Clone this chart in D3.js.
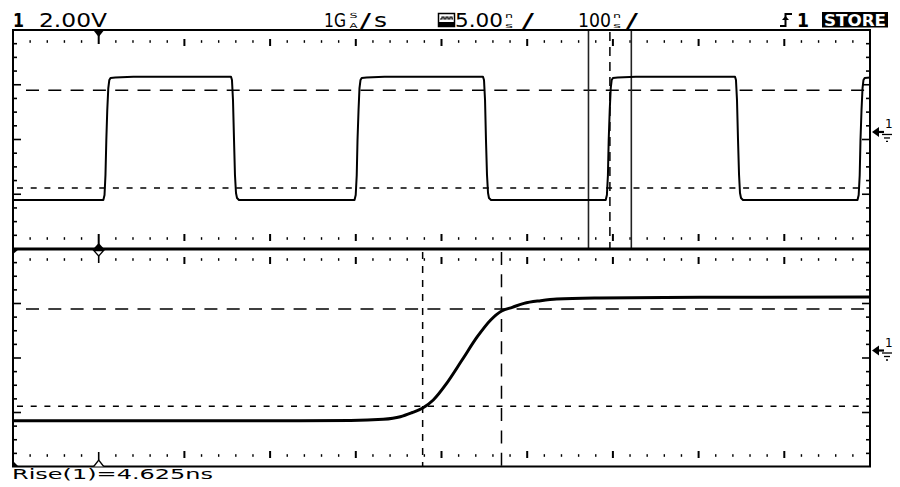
<!DOCTYPE html>
<html><head><meta charset="utf-8">
<script src="https://cdn.jsdelivr.net/npm/d3@7"></script>
<style>html,body{margin:0;padding:0;background:#fff}svg{display:block}</style>
</head><body>
<svg id="c" width="900" height="487"></svg>
<script>
// ---------------- DATA ----------------
const channelLabel = "1";
const voltsPerDivLabel = "2.00V";
const sampleRateParts = ["1G", "S", "A", "/", "s"];
const zoomTimebaseParts = ["5.00", "n", "s", "/"];
const mainTimebaseParts = ["100", "n", "s", "/"];
const triggerLabel = "1";
const modeLabel = "STORE";
const measurementLabel = "Rise(1)=4.625ns";

// main window: 100 ns/div, 10 divisions, trigger 1 div from left
const mainTimeDomain = [-100, 900];           // ns
const voltDomain = [-8.55, 7.45];             // V (ground marker at 0 V)

// main (100 ns/div) trace: time (ns) and volts
const mainTimes = [-100.0, 5.4, 6.8, 7.9, 8.9, 10.0, 11.2, 12.4, 13.8, 19.4, 40.4,
  154.4, 155.5, 156.7, 157.9, 159.0, 160.2, 161.4, 163.7,
  298.5, 299.9, 301.1, 302.0, 303.2, 304.3, 305.5, 306.9, 312.5, 333.5,
  448.4, 449.6, 450.8, 451.9, 453.1, 454.3, 455.4, 457.8,
  591.6, 593.0, 594.2, 595.1, 596.3, 597.5, 598.6, 600.0, 605.6, 626.6,
  742.5, 743.6, 744.8, 746.0, 747.2, 748.3, 749.5, 751.8,
  885.4, 886.8, 888.0, 888.9, 890.1, 891.3, 892.4, 893.8, 900.0];
const mainVolts = [-4.97, -4.97, -4.60, -3.14, -0.58, 1.61, 3.21, 3.80, 3.95, 3.98, 4.04,
  4.04, 3.80, 2.34, -0.58, -3.14, -4.46, -4.82, -4.97,
  -4.97, -4.60, -3.14, -0.58, 1.61, 3.21, 3.80, 3.95, 3.98, 4.04,
  4.04, 3.80, 2.34, -0.58, -3.14, -4.46, -4.82, -4.97,
  -4.97, -4.60, -3.14, -0.58, 1.61, 3.21, 3.80, 3.95, 3.98, 4.04,
  4.04, 3.80, 2.34, -0.58, -3.14, -4.46, -4.82, -4.97,
  -4.97, -4.60, -3.14, -0.58, 1.61, 3.21, 3.80, 3.95, 3.98];

// zoom window: 5 ns/div around the zoom centre
const zoomCenter = 596.5;   // ns
const zoomSpan = 50;        // ns (10 div x 5 ns)
const zoomTimes = [571.5, 588.2, 591.2, 593.1, 594.1, 594.76, 595.38, 596.02, 596.80, 597.70,
  598.59, 599.37, 600.01, 600.63, 601.31, 602.29, 603.22, 605.7, 611.6, 621.5];
const zoomVolts = [-5.15, -5.15, -5.14, -5.05, -4.86, -4.57, -4.24, -3.63, -2.41, -0.70,
  1.01, 2.24, 2.90, 3.17, 3.46, 3.66, 3.78, 3.85, 3.90, 3.93];

// rise-time measurement markers
const levelVolts = [-4.1, 3.05];        // 10 % and 90 % levels
const cursorTimes = [595.4, 600.0];     // 10 % and 90 % crossings (ns)

// ---------------- LAYOUT ----------------
const L = 13, R = 870, T = 30, MID = 249, B = 467;
const svg = d3.select("#c");
const ink = "#000";

const xMain = d3.scaleLinear().domain(mainTimeDomain).range([L, R]);
const xZoom = d3.scaleLinear().domain([zoomCenter - zoomSpan / 2, zoomCenter + zoomSpan / 2]).range([L, R]);
const yTop = d3.scaleLinear().domain(voltDomain).range([MID, T]);
const yBot = d3.scaleLinear().domain(voltDomain).range([B, MID]);

const defs = svg.append("defs");
defs.append("clipPath").attr("id", "clipTop").append("rect").attr("x", L).attr("y", T).attr("width", R - L + 1).attr("height", MID - T);
defs.append("clipPath").attr("id", "clipBot").append("rect").attr("x", L).attr("y", MID).attr("width", R - L + 1).attr("height", B - MID);

// ---------------- GRATICULE ----------------
const grat = svg.append("g");
function panelGraticule(y0, y1, rowA, rowB) {
  const n = 16, step = (y1 - y0) / n;
  const ks = d3.range(1, n);
  grat.selectAll(null).data(ks).enter().append("line")
    .attr("x1", L).attr("x2", k => L + (k % 4 === 0 ? 8 : 4))
    .attr("y1", k => y0 + k * step).attr("y2", k => y0 + k * step)
    .attr("stroke", ink).attr("stroke-width", 1.6);
  grat.selectAll(null).data(ks).enter().append("line")
    .attr("x1", R).attr("x2", k => R - (k % 4 === 0 ? 8 : 4))
    .attr("y1", k => y0 + k * step).attr("y2", k => y0 + k * step)
    .attr("stroke", ink).attr("stroke-width", 1.6);
  const ts = d3.range(-80, 900, 20).filter(t => t !== 0);
  [[rowA, 1], [rowB, -1]].forEach(([ry, dir]) => {
    grat.selectAll(null).data(ts).enter().append("rect")
      .attr("x", t => xMain(t) - (t % 100 === 0 ? 1 : 0.7))
      .attr("width", t => (t % 100 === 0 ? 2 : 1.4))
      .attr("y", t => t % 100 === 0 ? (dir > 0 ? ry - 2.5 : ry - 4.5) : ry - 1.3)
      .attr("height", t => (t % 100 === 0 ? 7 : 2.6))
      .attr("fill", ink);
  });
}
panelGraticule(T, MID, 41.5, 238.5);
panelGraticule(MID, B, 259.5, 455.5);

// level lines (10 % short dash, 90 % long dash) in both panels
function levelLines(ys) {
  svg.append("line").attr("x1", L + 13).attr("x2", R - 4)
    .attr("y1", ys(levelVolts[1])).attr("y2", ys(levelVolts[1]))
    .attr("stroke", ink).attr("stroke-width", 1.5).attr("stroke-dasharray", "13,9.3");
  svg.append("line").attr("x1", L + 4).attr("x2", R)
    .attr("y1", ys(levelVolts[0])).attr("y2", ys(levelVolts[0]))
    .attr("stroke", ink).attr("stroke-width", 1.5).attr("stroke-dasharray", "6,7.7");
}
levelLines(yTop);
levelLines(yBot);

// zoom window in the main panel
[zoomCenter - zoomSpan / 2, zoomCenter + zoomSpan / 2].forEach(t => {
  svg.append("line").attr("x1", xMain(t)).attr("x2", xMain(t)).attr("y1", T).attr("y2", MID)
    .attr("stroke", "#222").attr("stroke-width", 1.6);
});
svg.append("line").attr("x1", xMain(zoomCenter)).attr("x2", xMain(zoomCenter)).attr("y1", T + 2).attr("y2", MID)
  .attr("stroke", ink).attr("stroke-width", 1.5).attr("stroke-dasharray", "9,6");

// time cursors in zoom panel
svg.append("line").attr("x1", xZoom(cursorTimes[0])).attr("x2", xZoom(cursorTimes[0])).attr("y1", MID + 3).attr("y2", B)
  .attr("stroke", ink).attr("stroke-width", 1.5).attr("stroke-dasharray", "7,7");
svg.append("line").attr("x1", xZoom(cursorTimes[1])).attr("x2", xZoom(cursorTimes[1])).attr("y1", MID + 3).attr("y2", B)
  .attr("stroke", ink).attr("stroke-width", 1.5).attr("stroke-dasharray", "13,9.3");

// ---------------- TRACES ----------------
const mainData = mainTimes.map((t, i) => [t, mainVolts[i]]);
const zoomData = zoomTimes.map((t, i) => [t, zoomVolts[i]]);
svg.append("path").attr("clip-path", "url(#clipTop)")
  .attr("d", d3.line().x(d => xMain(d[0])).y(d => yTop(d[1]))(mainData))
  .attr("fill", "none").attr("stroke", ink).attr("stroke-width", 2).attr("stroke-linejoin", "round");
svg.append("path").attr("clip-path", "url(#clipBot)")
  .attr("d", d3.line().curve(d3.curveMonotoneX).x(d => xZoom(d[0])).y(d => yBot(d[1]))(zoomData))
  .attr("fill", "none").attr("stroke", ink).attr("stroke-width", 3).attr("stroke-linejoin", "round");

// ---------------- FRAME ----------------
const fr = svg.append("g").attr("stroke", ink).attr("fill", "none");
fr.append("line").attr("x1", L - 1).attr("x2", R + 1).attr("y1", T).attr("y2", T).attr("stroke-width", 2);
fr.append("line").attr("x1", L).attr("x2", L).attr("y1", T).attr("y2", B).attr("stroke-width", 2);
fr.append("line").attr("x1", R).attr("x2", R).attr("y1", T).attr("y2", B).attr("stroke-width", 2);
fr.append("line").attr("x1", L - 1).attr("x2", R + 1).attr("y1", B - 0.5).attr("y2", B - 0.5).attr("stroke-width", 2);
fr.append("line").attr("x1", L).attr("x2", R).attr("y1", MID).attr("y2", MID).attr("stroke-width", 3);

// corner markers
svg.append("path").attr("d", `M${L - 1},${MID}L${L + 6},${MID}L${L - 1},${MID + 6}Z`).attr("fill", ink);
svg.append("path").attr("d", `M${L - 1},${B - 7}L${L + 6},${B}L${L - 1},${B}Z`).attr("fill", ink);

// trigger position markers (t = 0)
const tx = xMain(0);
svg.append("path").attr("d", `M${tx - 5.5},${T}L${tx + 5.5},${T}L${tx},${T + 7}Z`).attr("fill", ink);
svg.append("line").attr("x1", tx).attr("x2", tx).attr("y1", T).attr("y2", T + 14).attr("stroke", ink).attr("stroke-width", 2);
svg.append("line").attr("x1", tx).attr("x2", tx).attr("y1", MID - 15).attr("y2", MID).attr("stroke", ink).attr("stroke-width", 2);
svg.append("path").attr("d", `M${tx - 5.5},${MID}L${tx},${MID - 6}L${tx + 5.5},${MID}Z`).attr("fill", ink);
svg.append("path").attr("d", `M${tx - 5},${MID + 1.5}L${tx + 5},${MID + 1.5}L${tx},${MID + 7}Z`).attr("fill", "#fff").attr("stroke", ink).attr("stroke-width", 1.3);
svg.append("line").attr("x1", tx).attr("x2", tx).attr("y1", MID + 7).attr("y2", MID + 14).attr("stroke", ink).attr("stroke-width", 1.6);
svg.append("line").attr("x1", tx).attr("x2", tx).attr("y1", B - 15).attr("y2", B - 7).attr("stroke", ink).attr("stroke-width", 1.6);
svg.append("path").attr("d", `M${tx - 5},${B - 0.5}L${tx},${B - 7}L${tx + 5},${B - 0.5}`).attr("fill", "#fff").attr("stroke", ink).attr("stroke-width", 1.3);

// ground markers
function ground(y) {
  const g = svg.append("g");
  g.append("path").attr("d", `M${R + 2},${y}L${R + 9},${y - 5}L${R + 9},${y + 5}Z`).attr("fill", ink);
  g.append("line").attr("x1", R + 8).attr("x2", R + 14).attr("y1", y).attr("y2", y).attr("stroke", ink).attr("stroke-width", 2.2);
  g.append("text").attr("x", R + 15).attr("y", y - 3.5).attr("font-family", "DejaVu Sans").attr("font-size", 12).text(channelLabel);
  [[12, 22, 2.5], [14, 20, 6], [16, 18, 9.5]].forEach(([a, b, dy]) =>
    g.append("line").attr("x1", R + a).attr("x2", R + b).attr("y1", y + dy).attr("y2", y + dy).attr("stroke", ink).attr("stroke-width", 1.3));
}
ground(yTop(0));
ground(yBot(0));

// ---------------- TEXT ----------------
const fam = "DejaVu Sans, sans-serif";
function txt(s, x, y, size, len, weight, fill) {
  const t = svg.append("text").attr("x", x).attr("y", y).attr("font-family", fam)
    .attr("font-size", size).attr("font-weight", weight || "normal").attr("fill", fill || ink).text(s);
  if (len) t.attr("textLength", len).attr("lengthAdjust", "spacingAndGlyphs");
  return t;
}
txt(channelLabel, 13, 27, 19, 11, "bold");
txt(voltsPerDivLabel, 39, 27, 19, 68);
// sample rate
txt(sampleRateParts[0], 324, 27, 19, 22);
txt(sampleRateParts[1], 349.5, 18, 7, 8);
txt(sampleRateParts[2], 349.5, 27.5, 7, 8);
txt(sampleRateParts[3], 360, 27, 19, 11);
txt(sampleRateParts[4], 374, 27, 19, 13);
// zoom icon
svg.append("rect").attr("x", 438.5).attr("y", 13.5).attr("width", 16).attr("height", 13).attr("fill", "#fff").attr("stroke", ink).attr("stroke-width", 1.5);
svg.append("rect").attr("x", 438.5).attr("y", 22).attr("width", 16).attr("height", 4.5).attr("fill", ink);
svg.append("path").attr("d", "M440,19H442V17H444V19H446V17H448V19H450V17H452V19H453").attr("fill", "none").attr("stroke", ink).attr("stroke-width", 1.2);
txt(zoomTimebaseParts[0], 455, 27, 19, 48);
txt(zoomTimebaseParts[1], 505, 18, 7, 8);
txt(zoomTimebaseParts[2], 505, 27.5, 7, 8);
txt(zoomTimebaseParts[3], 522, 27, 19, 12);
txt(mainTimebaseParts[0], 578, 27, 19, 33);
txt(mainTimebaseParts[1], 613, 18, 7, 8);
txt(mainTimebaseParts[2], 613, 27.5, 7, 8);
txt(mainTimebaseParts[3], 626, 27, 19, 12);
// trigger symbol
svg.append("path").attr("d", "M780,26H785.5V14H792").attr("fill", "none").attr("stroke", ink).attr("stroke-width", 2);
svg.append("path").attr("d", "M782,20L785.5,16L789,20Z").attr("fill", ink);
txt(triggerLabel, 797, 27, 19, 12, "bold");
// mode box
svg.append("rect").attr("x", 822).attr("y", 12).attr("width", 66).attr("height", 15.5).attr("fill", ink);
txt(modeLabel, 824, 25.5, 15, 62, "bold", "#fff");
// measurement
txt(measurementLabel, 12, 478.5, 13.5, 201);
</script>
</body></html>
